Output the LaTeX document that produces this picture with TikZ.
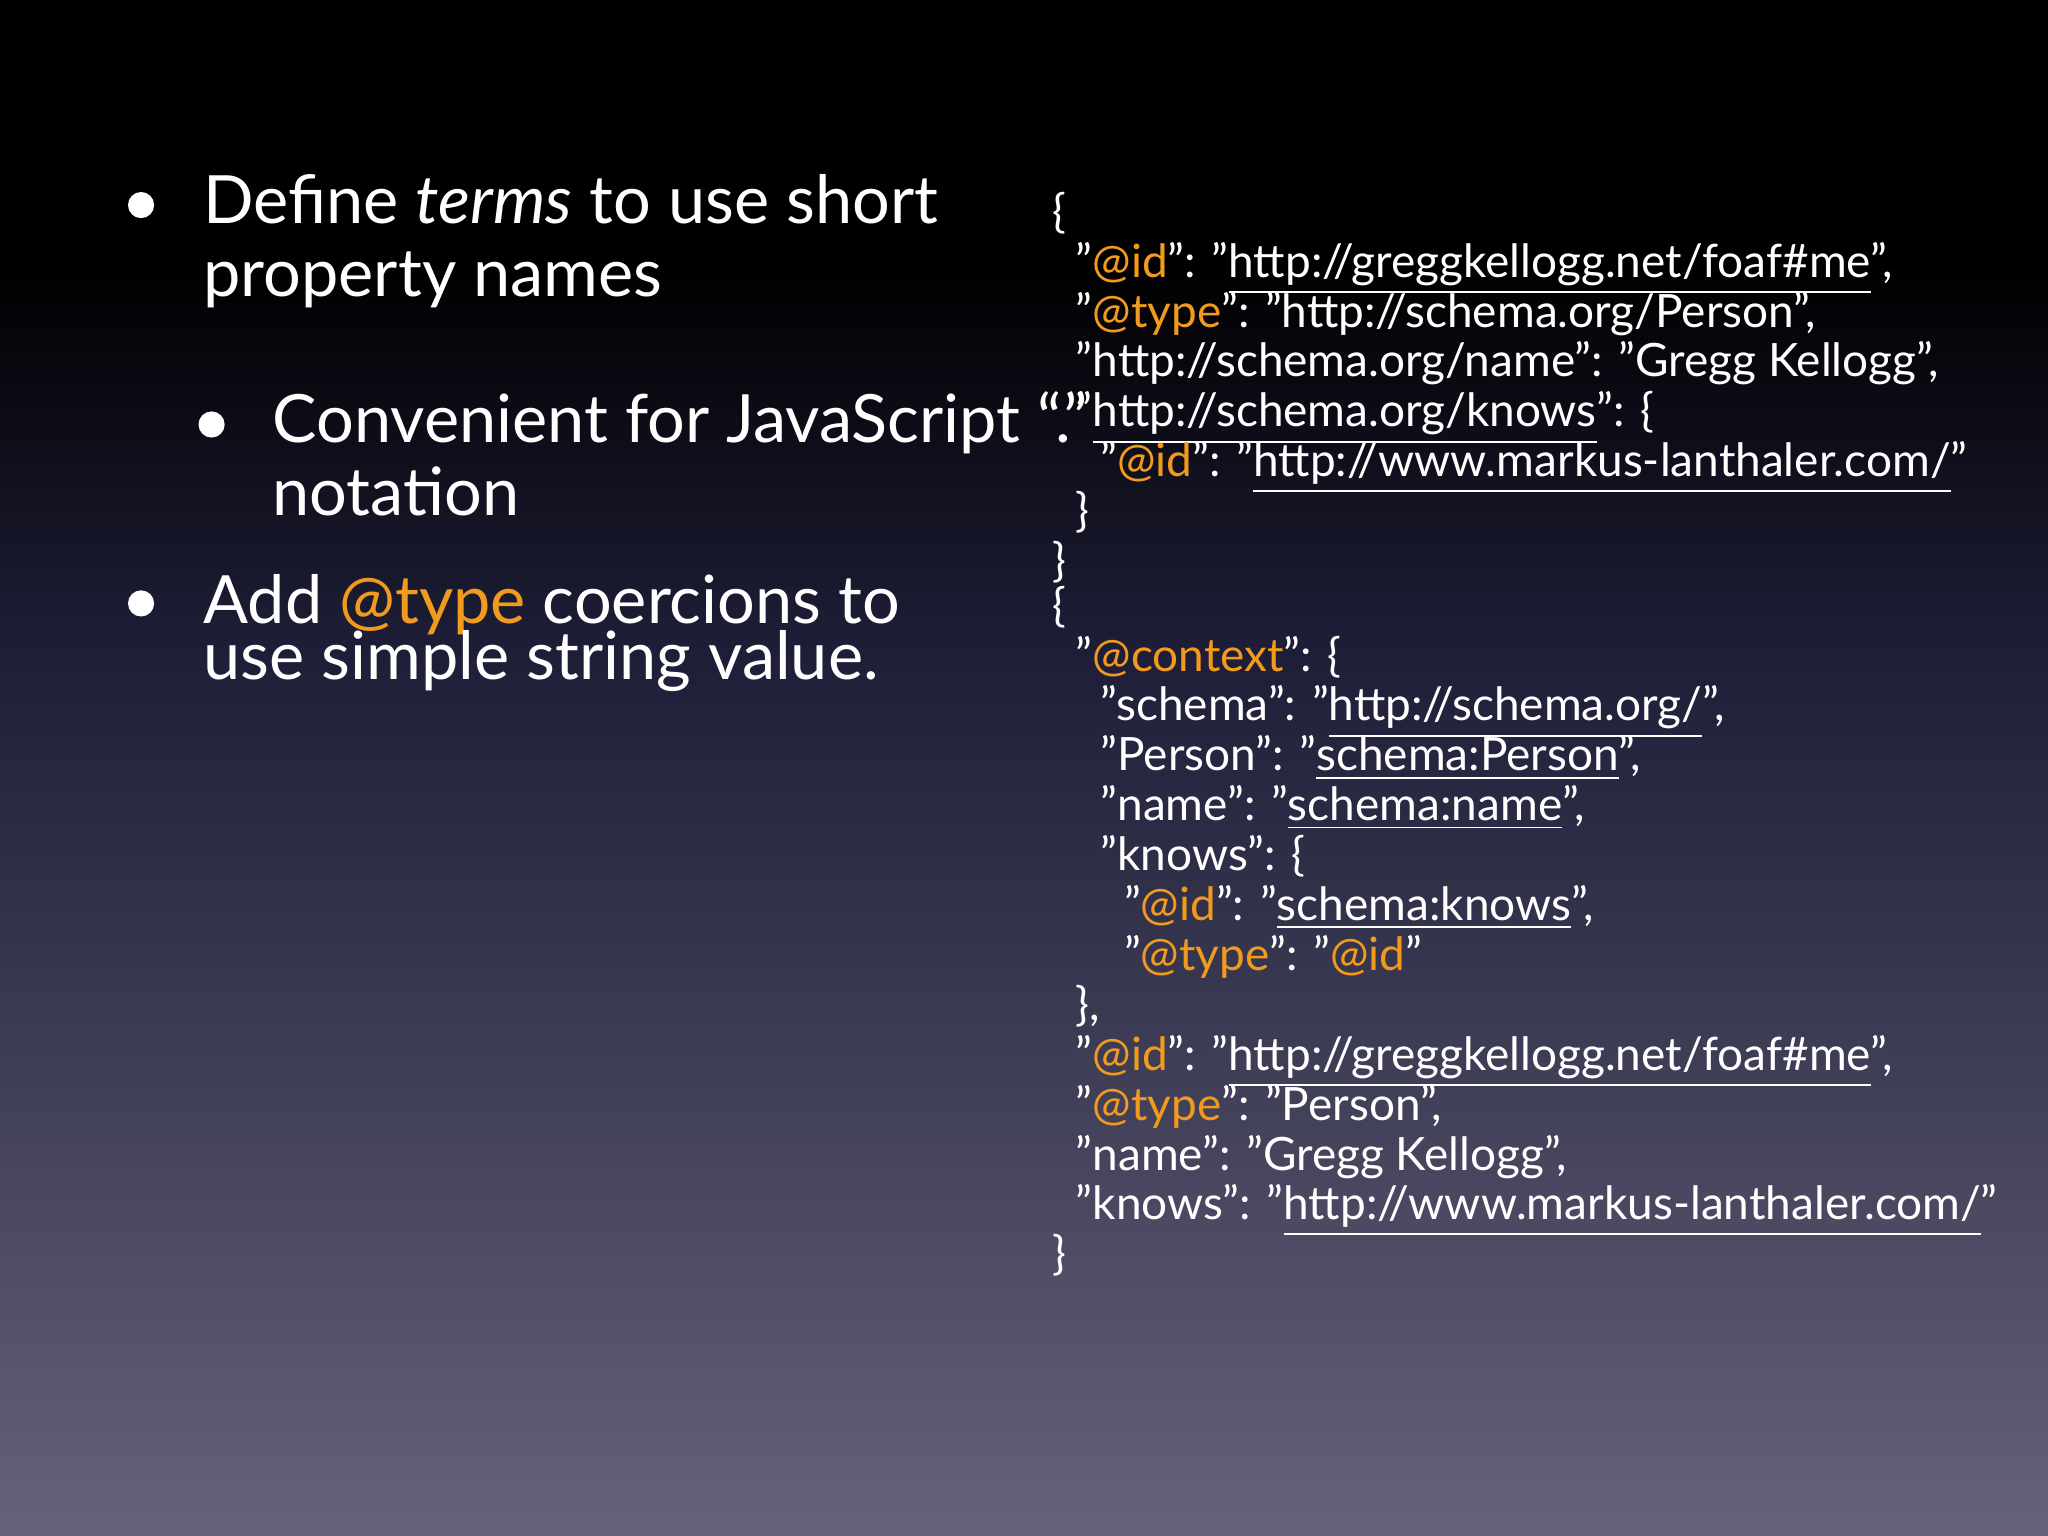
\documentclass[tikz,border=0pt]{standalone}
\usepackage{fontspec}
\setmainfont{Lato}
\definecolor{og}{HTML}{F29A1E}
\definecolor{bot}{HTML}{65627A}
\definecolor{mid}{HTML}{1E1E38}
\tikzset{big/.style={anchor=base west,text=white,font=\fontsize{14.5}{17}\selectfont,inner sep=0pt},
code/.style={anchor=base west,text=white,font=\fontsize{10}{12}\selectfont,inner sep=0pt},
dot/.style={circle,fill=white,inner sep=0pt,minimum size=0.2cm}}
\newcommand{\og}[1]{\textcolor{og}{#1}}
\newcommand{\ul}[1]{\underline{#1}}
\begin{document}
\begin{tikzpicture}[x=0.01cm,y=-0.01cm]
\useasboundingbox (0,0) rectangle (1568,1176);
\fill[black] (0,0) rectangle (1568,200);
\shade[top color=black,bottom color=mid] (0,199) rectangle (1568,500);
\shade[top color=mid,bottom color=bot] (0,499) rectangle (1568,1176);
\node[dot] (b1) at (108,157) {};
\node[big] (t1) at (155,171) {Define \textit{terms} to use short};
\node[big] (t2) at (155,227) {property names};
\node[dot] (b2) at (162,325) {};
\node[big] (t3) at (208,339) {Convenient for JavaScript “.”};
\node[big] (t4) at (208,395) {notation};
\node[dot] (b3) at (108,462) {};
\node[big] (t5) at (155,477) {Add \og{@type} coercions to};
\node[big] (t6) at (155,520) {use simple string value.};
\foreach \i/\x/\t in {
1/805/{\{},
2/823/{"\og{@id}": "\ul{http://greggkellogg.net/foaf\#me}",},
3/823/{"\og{@type}": "http://schema.org/Person",},
4/823/{"http://schema.org/name": "Gregg Kellogg",},
5/823/{"\ul{http://schema.org/knows}": \{},
6/842/{"\og{@id}": "\ul{http://www.markus-lanthaler.com/}"},
7/823/{\}},
8/805/{\}},
9/805/{\{},
10/823/{"\og{@context}": \{},
11/842/{"schema": "\ul{http://schema.org/}",},
12/842/{"Person": "\ul{schema:Person}",},
13/842/{"name": "\ul{schema:name}",},
14/842/{"knows”: \{},
15/860/{"\og{@id}": "\ul{schema:knows}",},
16/860/{"\og{@type}": "\og{@id}"},
17/823/{\},},
18/823/{"\og{@id}": "\ul{http://greggkellogg.net/foaf\#me}",},
19/823/{"\og{@type}": "Person",},
20/823/{"name": "Gregg Kellogg",},
21/823/{"knows": "\ul{http://www.markus-lanthaler.com/}"},
22/805/{\}}}{
\pgfmathsetmacro{\yy}{163+(\i-1)*38.2+11}
\ifnum\i>8 \pgfmathsetmacro{\yy}{163+(\i-1)*38.2+11-4}\fi
\node[code] (c\i) at (\x,\yy) {\t};
}
\end{tikzpicture}
\end{document}
